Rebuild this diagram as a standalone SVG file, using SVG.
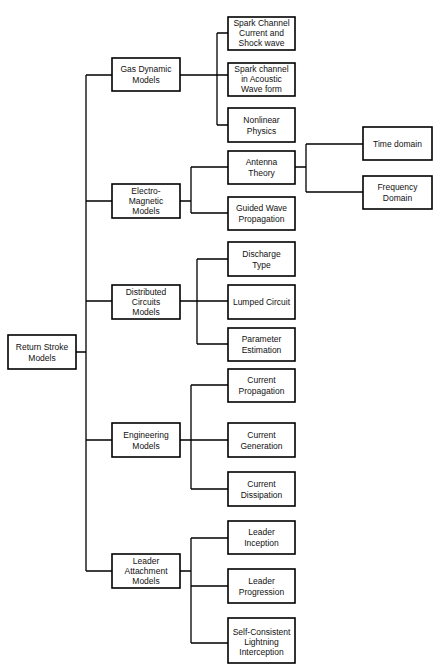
<svg xmlns="http://www.w3.org/2000/svg" width="434" height="664" viewBox="0 0 434 664">
<style>
.box{fill:#fff;stroke:#000;stroke-width:1.6}
.t{font-family:"Liberation Sans",Arial,sans-serif;font-size:8.5px;text-anchor:middle;fill:#111}
.ln{stroke:#000;stroke-width:1.3;fill:none}
</style>
<rect width="434" height="664" fill="#fff"/>
<g id="connectors">
<path class="ln" d="M76,352H86M86,75V571M86,75H112M86,201H112M86,301H112M86,440H112M86,571H112"/>
<path class="ln" d="M180,75H228M217,33V125M217,33H228M217,125H228"/>
<path class="ln" d="M180,201H191M191,167V213M191,167H228M191,213H228"/>
<path class="ln" d="M295,167H306M306,144V192M306,144H363M306,192H363"/>
<path class="ln" d="M180,301H228M197,259V344M197,259H228M197,344H228"/>
<path class="ln" d="M180,440H228M191,385V489M191,385H228M191,489H228"/>
<path class="ln" d="M180,571H191M191,538V643M191,538H228M191,586H228M191,643H228"/>
</g>
<g id="root"><rect class="box" x="8" y="335" width="68" height="34"/><text class="t" x="42" y="349.5">Return Stroke</text><text class="t" x="42" y="360.5">Models</text></g>
<g id="gas"><rect class="box" x="112" y="58" width="68" height="33"/><text class="t" x="146" y="72">Gas Dynamic</text><text class="t" x="146" y="83">Models</text></g>
<g id="em"><rect class="box" x="112" y="184" width="68" height="34"/><text class="t" x="146" y="194">Electro-</text><text class="t" x="146" y="204">Magnetic</text><text class="t" x="146" y="214">Models</text></g>
<g id="dist"><rect class="box" x="112" y="285" width="68" height="34"/><text class="t" x="146" y="295">Distributed</text><text class="t" x="146" y="305">Circuits</text><text class="t" x="146" y="315">Models</text></g>
<g id="eng"><rect class="box" x="112" y="423" width="68" height="34"/><text class="t" x="146" y="437.5">Engineering</text><text class="t" x="146" y="448.5">Models</text></g>
<g id="leader"><rect class="box" x="112" y="554" width="68" height="34"/><text class="t" x="146" y="564">Leader</text><text class="t" x="146" y="574">Attachment</text><text class="t" x="146" y="584">Models</text></g>
<g id="sc1"><rect class="box" x="228" y="17" width="67" height="33"/><text class="t" x="261.5" y="26">Spark Channel</text><text class="t" x="261.5" y="36">Current and</text><text class="t" x="261.5" y="46">Shock wave</text></g>
<g id="sc2"><rect class="box" x="228" y="63" width="67" height="33"/><text class="t" x="261.5" y="72">Spark channel</text><text class="t" x="261.5" y="82">in Acoustic</text><text class="t" x="261.5" y="92">Wave form</text></g>
<g id="nl"><rect class="box" x="228" y="108" width="67" height="34"/><text class="t" x="261.5" y="122.5">Nonlinear</text><text class="t" x="261.5" y="133.5">Physics</text></g>
<g id="ant"><rect class="box" x="228" y="151" width="67" height="33"/><text class="t" x="261.5" y="165">Antenna</text><text class="t" x="261.5" y="176">Theory</text></g>
<g id="gw"><rect class="box" x="228" y="197" width="67" height="33"/><text class="t" x="261.5" y="211">Guided Wave</text><text class="t" x="261.5" y="222">Propagation</text></g>
<g id="dt"><rect class="box" x="228" y="242" width="67" height="34"/><text class="t" x="261.5" y="256.5">Discharge</text><text class="t" x="261.5" y="267.5">Type</text></g>
<g id="lc"><rect class="box" x="228" y="285" width="67" height="34"/><text class="t" x="261.5" y="305">Lumped Circuit</text></g>
<g id="pe"><rect class="box" x="228" y="328" width="67" height="33"/><text class="t" x="261.5" y="342">Parameter</text><text class="t" x="261.5" y="353">Estimation</text></g>
<g id="cp"><rect class="box" x="228" y="369" width="67" height="33"/><text class="t" x="261.5" y="383">Current</text><text class="t" x="261.5" y="394">Propagation</text></g>
<g id="cg"><rect class="box" x="228" y="423" width="67" height="34"/><text class="t" x="261.5" y="437.5">Current</text><text class="t" x="261.5" y="448.5">Generation</text></g>
<g id="cd"><rect class="box" x="228" y="472" width="67" height="34"/><text class="t" x="261.5" y="486.5">Current</text><text class="t" x="261.5" y="497.5">Dissipation</text></g>
<g id="li"><rect class="box" x="228" y="521" width="67" height="33"/><text class="t" x="261.5" y="535">Leader</text><text class="t" x="261.5" y="546">Inception</text></g>
<g id="lp"><rect class="box" x="228" y="569" width="67" height="34"/><text class="t" x="261.5" y="583.5">Leader</text><text class="t" x="261.5" y="594.5">Progression</text></g>
<g id="scli"><rect class="box" x="228" y="618" width="67" height="45"/><text class="t" x="261.5" y="635">Self-Consistent</text><text class="t" x="261.5" y="645">Lightning</text><text class="t" x="261.5" y="655">Interception</text></g>
<g id="td"><rect class="box" x="363" y="127" width="69" height="33"/><text class="t" x="397.5" y="146.5">Time domain</text></g>
<g id="fd"><rect class="box" x="363" y="176" width="69" height="33"/><text class="t" x="397.5" y="190">Frequency</text><text class="t" x="397.5" y="201">Domain</text></g>
</svg>
